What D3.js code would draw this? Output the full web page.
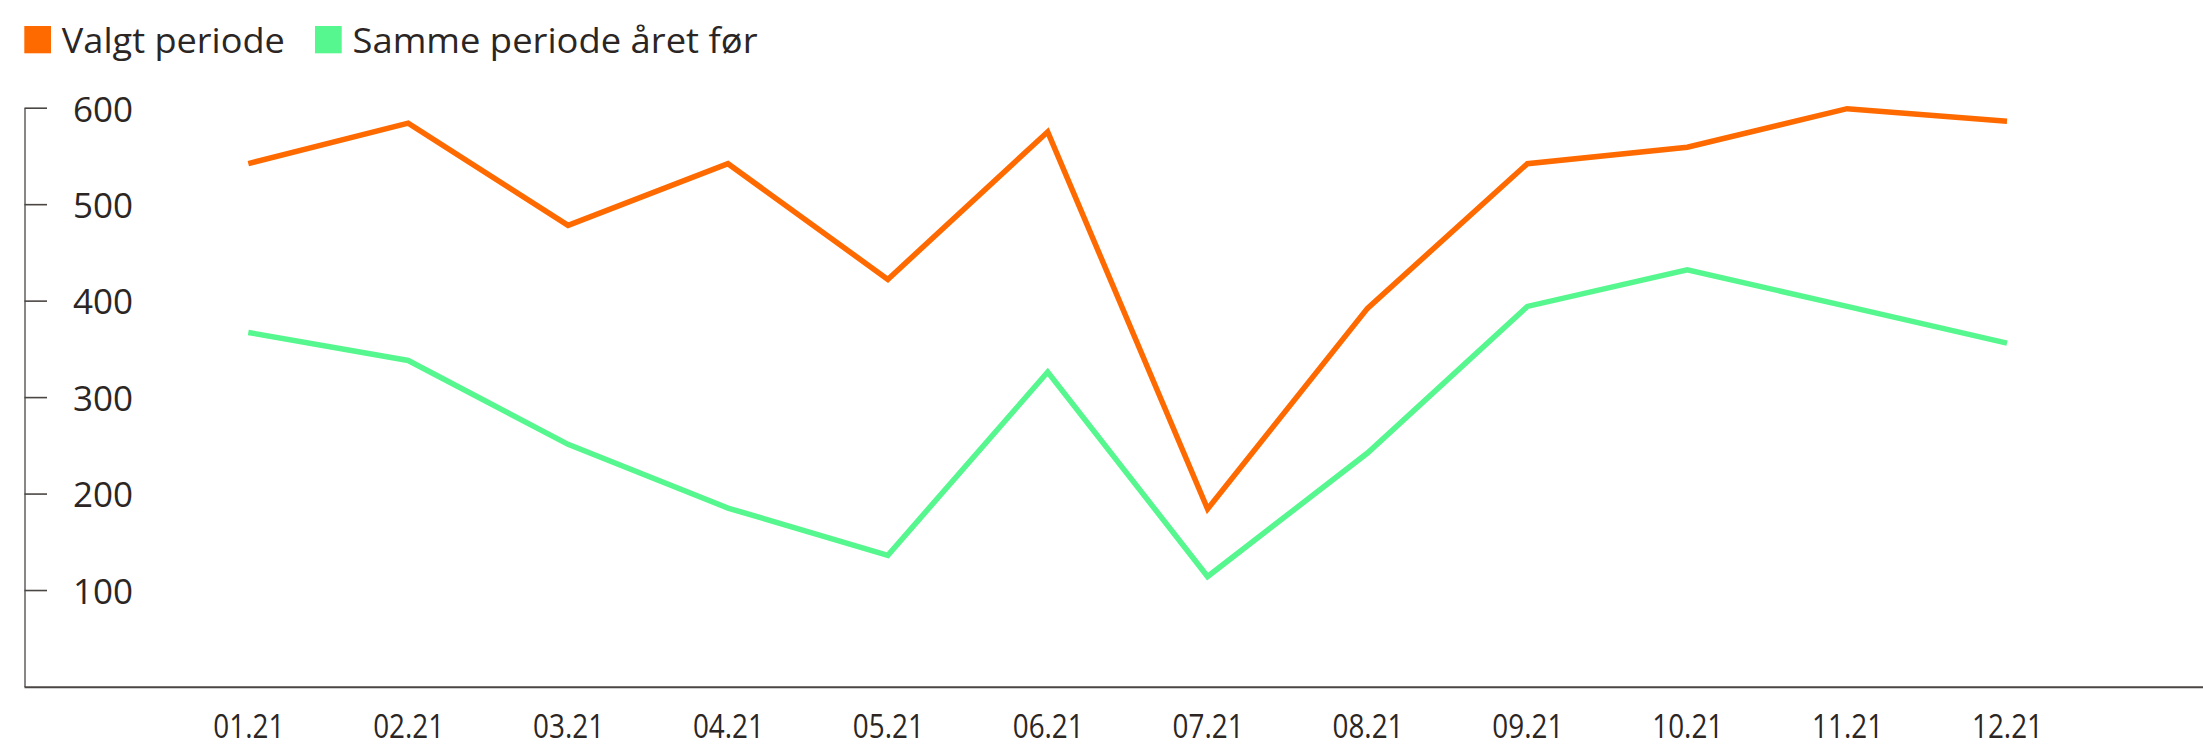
<!DOCTYPE html>
<html>
<head>
<meta charset="utf-8">
<script src="https://cdn.jsdelivr.net/npm/d3@7"></script>
<style>
  html, body { margin: 0; padding: 0; background: #ffffff; }
  svg { display: block; }
  text { font-family: "Open Sans", "Noto Sans", sans-serif; fill: #2b2624; }
</style>
</head>
<body>
<script>
// ---- data ----
const months = ["01.21", "02.21", "03.21", "04.21", "05.21", "06.21",
                "07.21", "08.21", "09.21", "10.21", "11.21", "12.21"];
const valgtPeriode = [542, 584, 478, 542, 422, 575, 184, 392, 542, 559, 599, 586];
const sammePeriodeAretFor = [367, 338, 251, 185, 136, 326, 114, 242, 394, 432, 394, 356];
const yTickValues = [100, 200, 300, 400, 500, 600];
const seriesNames = ["Valgt periode", "Samme periode året før"];
const seriesColors = ["#ff6a00", "#55f78e"];

// ---- layout ----
const W = 2203, H = 747;
const svg = d3.select("body").append("svg").attr("width", W).attr("height", H);

const x = d3.scalePoint().domain(months).range([248.3, 2007]);
const y = d3.scaleLinear().domain([0, 600]).range([686.5, 107.7]);
const axisLeftX = 24.5;

// y axis (ticks point inward, labels inside)
const yAxis = svg.append("g")
  .attr("transform", `translate(${axisLeftX},0)`)
  .call(d3.axisRight(y).tickValues(yTickValues).tickSize(22.5).tickSizeOuter(0).tickPadding(26));
yAxis.select(".domain").attr("stroke", "#4a4644").attr("stroke-width", 1.3);
yAxis.selectAll(".tick line").attr("stroke", "#4a4644").attr("stroke-width", 1.6);
yAxis.selectAll(".tick text")
  .attr("font-size", 35)
  .attr("font-family", "'Open Sans', sans-serif")
  .attr("fill", "#2b2624")
  .attr("dy", "0.38em");

// x axis baseline across the full width
svg.append("line")
  .attr("x1", axisLeftX).attr("x2", W)
  .attr("y1", y(0) + 0.8).attr("y2", y(0) + 0.8)
  .attr("stroke", "#4a4644").attr("stroke-width", 2);

const xAxis = svg.append("g")
  .attr("transform", `translate(0,${y(0) + 0.8})`)
  .call(d3.axisBottom(x).tickSize(0).tickPadding(28));
xAxis.select(".domain").remove();
xAxis.selectAll(".tick text")
  .attr("font-size", 32)
  .attr("font-family", "'Open Sans', sans-serif")
  .attr("fill", "#2b2624")
  .attr("textLength", 71)
  .attr("lengthAdjust", "spacingAndGlyphs");

// lines
const line = d3.line()
  .x((d, i) => x(months[i]))
  .y(d => y(d));

[sammePeriodeAretFor, valgtPeriode].forEach((vals, k) => {
  const color = k === 0 ? seriesColors[1] : seriesColors[0];
  svg.append("path")
    .datum(vals)
    .attr("d", line)
    .attr("fill", "none")
    .attr("stroke", color)
    .attr("stroke-width", 5.5)
    .attr("stroke-linejoin", "miter")
    .attr("stroke-miterlimit", 10);
});

// legend
const legendItems = [
  { name: seriesNames[0], color: seriesColors[0], x: 24.3, len: 223 },
  { name: seriesNames[1], color: seriesColors[1], x: 315, len: 405 }
];
const legend = svg.append("g");
legendItems.forEach(item => {
  legend.append("rect")
    .attr("x", item.x).attr("y", 26)
    .attr("width", 26.7).attr("height", 27.3)
    .attr("fill", item.color);
  legend.append("text")
    .attr("x", item.x + 37.5).attr("y", 53.3)
    .attr("font-size", 35)
    .attr("textLength", item.len)
    .attr("lengthAdjust", "spacingAndGlyphs")
    .text(item.name);
});
</script>
</body>
</html>
